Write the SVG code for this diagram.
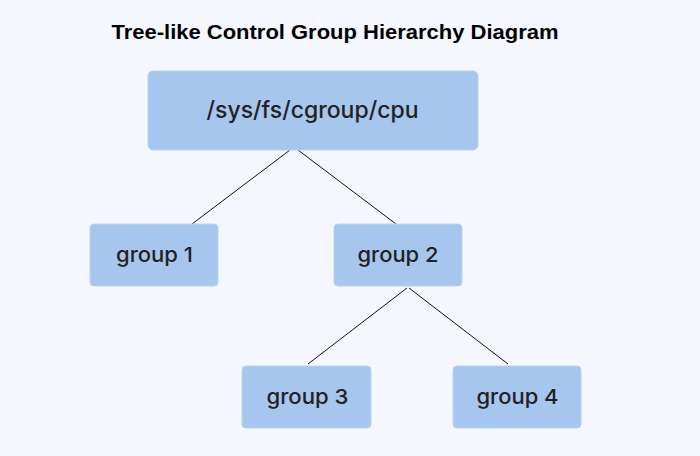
<svg xmlns="http://www.w3.org/2000/svg" width="700" height="456" viewBox="0 0 700 456">
<style>
.node{fill:#a7c6ee;stroke:#b9d2f2;stroke-width:1}
.lbl{font-family:Inter,"Liberation Sans",Arial,sans-serif;font-weight:500;fill:#222222;text-anchor:middle}
.edge{stroke:#111111;stroke-width:1;fill:none}
</style>
<rect width="700" height="456" fill="#f4f7fd"/>
<text x="335" y="39" font-family="Liberation Sans, Arial, sans-serif" font-weight="bold" font-size="21" text-anchor="middle" fill="#000" textLength="447" lengthAdjust="spacingAndGlyphs">Tree-like Control Group Hierarchy Diagram</text>
<g id="connectors">
<line class="edge" x1="290" y1="150" x2="192" y2="224"/>
<line class="edge" x1="298" y1="150" x2="396" y2="224"/>
<line class="edge" x1="407" y1="288" x2="308" y2="364"/>
<line class="edge" x1="409" y1="288" x2="508" y2="364"/>
</g>
<g id="root">
<rect class="node" x="148" y="71" width="330" height="79" rx="5"/>
<text class="lbl" x="312.5" y="118" font-size="23" textLength="212" lengthAdjust="spacingAndGlyphs">/sys/fs/cgroup/cpu</text>
</g>
<g id="group1">
<rect class="node" x="90" y="224" width="128" height="62" rx="4"/>
<text class="lbl" x="154.5" y="262" font-size="20.5" textLength="77" lengthAdjust="spacingAndGlyphs">group 1</text>
</g>
<g id="group2">
<rect class="node" x="334" y="224" width="128" height="62" rx="4"/>
<text class="lbl" x="398" y="262" font-size="20.5" textLength="81" lengthAdjust="spacingAndGlyphs">group 2</text>
</g>
<g id="group3">
<rect class="node" x="242" y="366" width="129" height="62" rx="4"/>
<text class="lbl" x="307.5" y="404" font-size="20.5" textLength="82" lengthAdjust="spacingAndGlyphs">group 3</text>
</g>
<g id="group4">
<rect class="node" x="453" y="366" width="128" height="62" rx="4"/>
<text class="lbl" x="517.5" y="404" font-size="20.5" textLength="82" lengthAdjust="spacingAndGlyphs">group 4</text>
</g>
</svg>
